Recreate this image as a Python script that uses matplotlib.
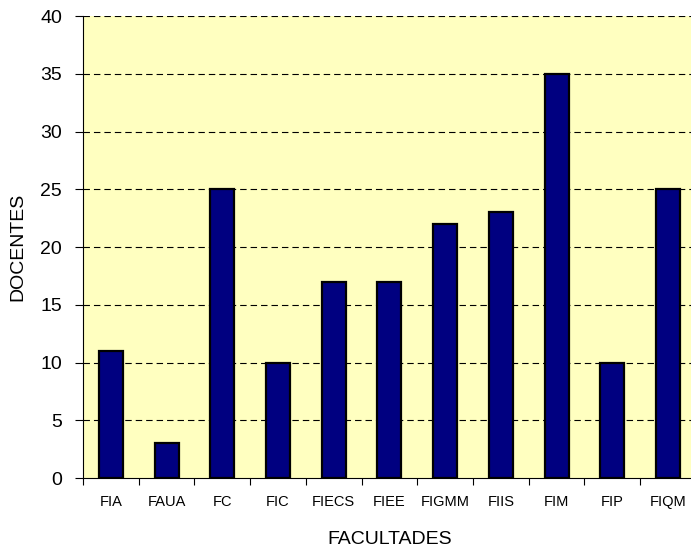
import numpy as np
import matplotlib
matplotlib.use('Agg')
import matplotlib.pyplot as plt

# Docentes por facultad
facultades = ['FIA', 'FAUA', 'FC', 'FIC', 'FIECS', 'FIEE', 'FIGMM', 'FIIS', 'FIM', 'FIP', 'FIQM']
docentes = [11, 3, 25, 10, 17, 17, 22, 23, 35, 10, 25]
yticks = [0, 5, 10, 15, 20, 25, 30, 35, 40]

plt.rcParams['font.family'] = ['Liberation Sans', 'DejaVu Sans']

fig = plt.figure(figsize=(6.91, 5.49), dpi=100)
ax = fig.add_axes([0.1201, 0.1293, 0.887, 0.8415])
ax.set_facecolor('#FFFFC0')

x = np.arange(len(facultades))

#Gridlines first so the bars sit on top
for y in yticks[1:]:
    ax.axhline(y, color='black', lw=0.8, dashes=(5.8, 3.6), zorder=1)

ax.bar(x, docentes, width=0.43, color='#000080', edgecolor='black', linewidth=1.6, zorder=2)

ax.set_xlim(-0.5, len(facultades) - 0.5)
ax.set_ylim(0, 40)

#Category labels in the middle, tick marks on the boundaries
ax.set_xticks(x)
ax.set_xticklabels(facultades, fontsize=10.5)
ax.tick_params(axis='x', which='major', length=0, pad=12)
ax.set_xticks(np.arange(len(facultades) + 1) - 0.5, minor=True)
ax.tick_params(axis='x', which='minor', length=5, width=0.8, direction='out')

ax.set_yticks(yticks)
ax.tick_params(axis='y', labelsize=14, length=6, width=0.8, pad=9)

for side in ['top', 'right']:
    ax.spines[side].set_visible(False)
ax.spines['left'].set_linewidth(0.8)
ax.spines['bottom'].set_linewidth(0.8)

ax.set_xlabel('FACULTADES', fontsize=14, labelpad=16)
ax.set_ylabel('DOCENTES', fontsize=14, labelpad=10)

fig.savefig('out.png', dpi=100)
